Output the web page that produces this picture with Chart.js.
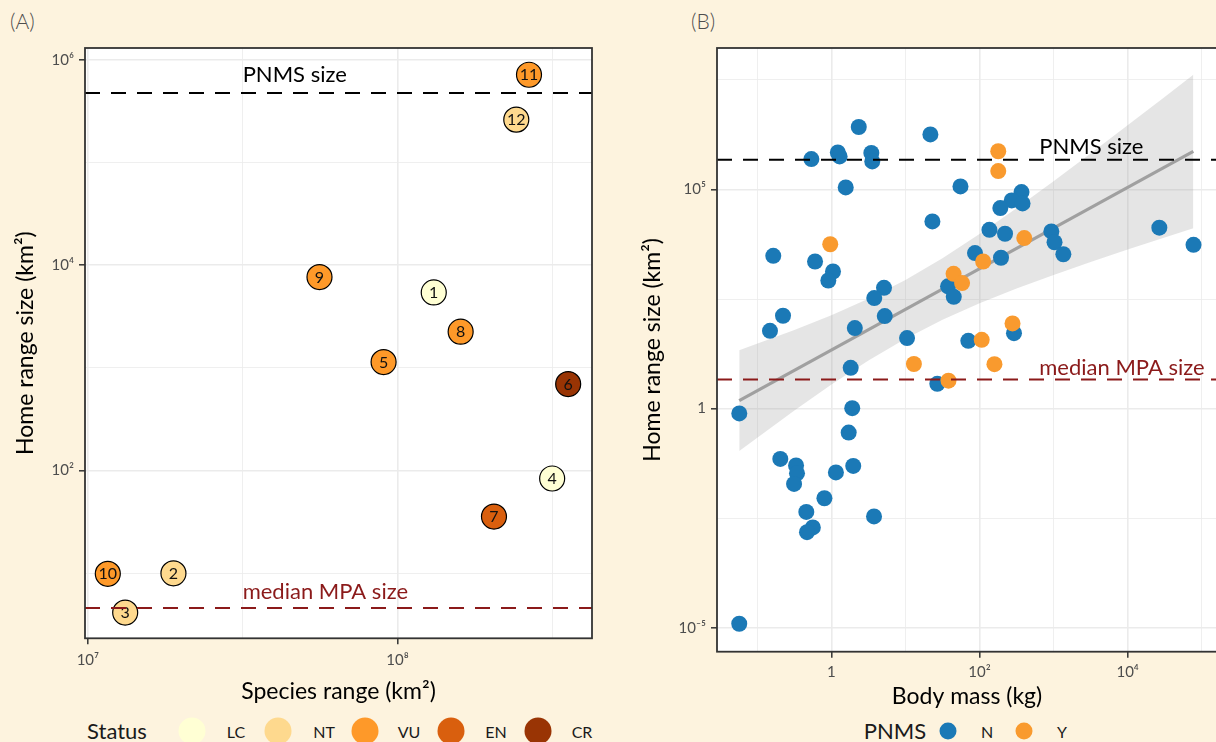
<!DOCTYPE html>
<html><head><meta charset="utf-8">
<script src="https://cdn.jsdelivr.net/npm/chart.js@4.4.1/dist/chart.umd.min.js"></script>
<style>
html,body{margin:0;padding:0;background:#FDF3DE;width:1216px;height:742px;overflow:hidden;font-family:Lato,"Noto Sans",sans-serif;}
#wrapA{position:absolute;left:0;top:0;width:600px;height:710px;}
#wrapB{position:absolute;left:620px;top:0;width:600px;height:710px;}
.tag{position:absolute;top:8px;font-size:21px;color:#4D4D4D;font-weight:300;}
.lg{position:absolute;transform:translate(-50%,-50%);white-space:nowrap;color:#1a1a1a;line-height:1;}
.lgt{font-size:22px;}
.lgl{font-size:16px;}
.dot{position:absolute;border-radius:50%;transform:translate(-50%,-50%);}
</style></head>
<body>
<div class="tag" style="left:10px">(A)</div>
<div class="tag" style="left:691px">(B)</div>
<div id="wrapA"><canvas id="cA" width="600" height="710"></canvas></div>
<div id="wrapB"><canvas id="cB" width="600" height="710"></canvas></div>
<div id="legA"></div>
<div id="legB"></div>
<script>
// ---------- Panel A data ----------
const speciesLabels = ['1','2','3','4','5','6','7','8','9','10','11','12'];
const speciesRange = [1.31e8, 1.89e7, 1.32e7, 3.16e8, 9.02e7, 3.56e8, 2.05e8, 1.60e8, 5.60e7, 1.16e7, 2.66e8, 2.42e8];
const homeRangeA = [5420, 10.0, 4.15, 83.8, 1138, 695, 35.7, 2249, 7656, 9.89, 7.14e5, 2.61e5];
const statusA = ['LC','NT','NT','LC','VU','CR','EN','VU','VU','VU','VU','NT'];
const statusLevels = ['LC','NT','VU','EN','CR'];
const statusColors = ['#FFFFD4','#FED98E','#FE9929','#D95F0E','#993404'];

// ---------- Panel B data ----------
const bodyMassN = [2.34,21.7,0.536,1.22,1.29,3.46,3.56,1.56,55.3,23.1,0.164,0.601,1.05,0.908,5.13,37.6,44.9,369,272,381,191,136,221,933,1030,1355,26800,77600,86.9,195,3.79,5.25,0.222,0.148,2.07,10.5,1.82,26.9,70.6,292,0.0570,1.91,1.71,0.204,0.333,0.343,0.313,1.15,1.97,0.804,0.458,0.561,0.468,3.76,0.0569];
const homeRangeN = [2.66e6,1.80e6,4.94e5,7.00e5,5.66e5,6.78e5,4.36e5,1.11e5,1.17e5,1.86e4,3060,2270,1340,836,570,617,355,8.73e4,5.61e4,4.79e4,3.76e4,1.20e4,9750,1.10e4,6240,3320,1.34e4,5460,3530,2760,332,129,131,59.4,68.5,40.5,8.49,3.66,35.2,52.6,0.776,1.02,0.283,0.0711,0.0505,0.0332,0.0191,0.0349,0.0492,0.00899,0.00439,0.00194,0.00151,0.00346,1.23e-5];
const bodyMassY = [0.964,44.6,58.1,179,179,402,112,13.0,38.1,107,279,159];
const homeRangeY = [5610,1190,729,7.45e5,2.63e5,7760,2270,10.4,4.34,37.0,87.7,10.3];
const fitX = [0.0569, 7.71e4];
const fitY = [1.52, 7.36e5];
const ribbonX = [0.0569,0.316,1,3.16,10,31.6,100,316,1000,3162,1e4,3.16e4,7.71e4];
const ribbonUpper = [21.5,61.8,134,319,863,2700,9570,3.73e4,1.54e5,6.61e5,2.90e6,1.29e7,4.14e7];
const ribbonLower = [0.108,0.906,3.52,12.5,39.1,106,252,547,1120,2210,4250,8050,1.31e4];
const pnmsLevels = ['N','Y'];
const pnmsColors = ['#1B79B6','#F99A2E'];

// ---------- reference lines ----------
const PNMS_SIZE = 4.75e5;
const MEDIAN_MPA = 4.6;

// ---------- ticks ----------
const aXMajor = [1e7, 1e8], aXLabels = ['10⁷','10⁸'], aXMinor = [3.1623e7, 3.1623e8];
const aYMajor = [1e2, 1e4, 1e6], aYLabels = ['10²','10⁴','10⁶'], aYMinor = [1e1, 1e3, 1e5];
const bXMajor = [1, 1e2, 1e4], bXLabels = ['1','10²','10⁴'], bXMinor = [0.1, 10, 1e3, 1e5];
const bYMajor = [1e-5, 1, 1e5], bYLabels = ['10⁻⁵','1','10⁵'], bYMinor = [3.1623e-3, 316.23, 3.1623e7];

Chart.defaults.font.family = "Lato, 'Noto Sans', sans-serif";

function sameLog(a,b){ return Math.abs(Math.log10(a)-Math.log10(b)) < 1e-6; }

function logAxis(major, labels, minor, min, max, extra){
  const ax = {
    type:'logarithmic', min:min, max:max, bounds:'data',
    afterBuildTicks(scale){
      const t = major.map(v=>({value:v, major:true})).concat(minor.map(v=>({value:v, major:false})));
      t.sort((p,q)=>p.value-q.value);
      scale.ticks = t;
    },
    ticks:{
      autoSkip:false, maxRotation:0, minRotation:0,
      color:'#4D4D4D', font:{size:15},
      callback(value){
        for (let i=0;i<major.length;i++) if (sameLog(value, major[i])) return labels[i];
        return '';
      }
    },
    grid:{
      color:'#EBEBEB',
      lineWidth: ctx => (ctx.tick && ctx.tick.major) ? 1.6 : 0.8,
      drawTicks:true, tickLength:6,
      tickColor: ctx => (ctx.tick && ctx.tick.major) ? '#333333' : 'rgba(0,0,0,0)',
      tickWidth:1.5
    },
    border:{display:false},
    title:{display:true, color:'#000', font:{size:23}}
  };
  return Object.assign(ax, extra||{});
}
function fixX(h){ return function(s){ s.height = h; s.paddingLeft = 0; s.paddingRight = 0; s.paddingTop = 0; s.paddingBottom = 0; }; }
function fixY(w){ return function(s){ s.width = w; s.paddingLeft = 0; s.paddingRight = 0; s.paddingTop = 0; s.paddingBottom = 0; }; }

const panelBg = { id:'panelBg', beforeDraw(chart){ const {ctx, chartArea:a} = chart; ctx.save(); ctx.fillStyle='#FFFFFF'; ctx.fillRect(a.left,a.top,a.right-a.left,a.bottom-a.top); ctx.restore(); } };
const panelBorder = { id:'panelBorder', afterDraw(chart){ const {ctx, chartArea:a} = chart; ctx.save(); ctx.strokeStyle='#333333'; ctx.lineWidth=1.8; ctx.strokeRect(a.left,a.top,a.right-a.left,a.bottom-a.top); ctx.restore(); } };
const pointLabels = { id:'pointLabels', afterDatasetsDraw(chart, args, opts){
  if (!opts || !opts.labels) return;
  const {ctx} = chart; const meta = chart.getDatasetMeta(0);
  ctx.save(); ctx.fillStyle='#111'; ctx.font="16px Lato, 'Noto Sans', sans-serif"; ctx.textAlign='center'; ctx.textBaseline='middle';
  meta.data.forEach((el,i)=>{ ctx.fillText(opts.labels[i], el.x, el.y+0.5); });
  ctx.restore();
}};
const refLines = { id:'refLines', afterDatasetsDraw(chart, args, opts){
  if (!opts || !opts.lines) return;
  const {ctx, chartArea:a, scales} = chart;
  ctx.save();
  ctx.beginPath(); ctx.rect(a.left,a.top,a.right-a.left,a.bottom-a.top); ctx.clip();
  opts.lines.forEach(l=>{
    const y = scales.y.getPixelForValue(l.value);
    ctx.strokeStyle=l.color; ctx.lineWidth=2; ctx.setLineDash([15,11]);
    ctx.beginPath(); ctx.moveTo(a.left,y); ctx.lineTo(a.right,y); ctx.stroke();
    ctx.setLineDash([]);
    ctx.fillStyle=l.color; ctx.font="22px Lato, 'Noto Sans', sans-serif"; ctx.textAlign='left'; ctx.textBaseline='middle';
    ctx.fillText(l.label, scales.x.getPixelForValue(l.labelX), scales.y.getPixelForValue(l.labelY));
  });
  ctx.restore();
}};

// ---------- Chart A ----------
new Chart(document.getElementById('cA'), {
  type:'scatter',
  data:{ datasets:[{
    label:'Status',
    data: speciesRange.map((x,i)=>({x:x, y:homeRangeA[i]})),
    pointBackgroundColor: statusA.map(s=>statusColors[statusLevels.indexOf(s)]),
    pointBorderColor:'#000', pointBorderWidth:1.2, pointRadius:12.5, pointHoverRadius:12.5
  }]},
  options:{
    responsive:false, animation:false, events:[],
    layout:{autoPadding:false, padding:{left:0, top:48, right:8, bottom:0}},
    plugins:{ legend:{display:false}, tooltip:{enabled:false},
      pointLabels:{labels:speciesLabels},
      refLines:{lines:[
        {value:PNMS_SIZE, color:'#000000', label:'PNMS size', labelX:3.1623e7, labelY:7.15e5},
        {value:MEDIAN_MPA, color:'#8B1A1A', label:'median MPA size', labelX:3.1623e7, labelY:6.65}
      ]}
    },
    scales:{
      x: logAxis(aXMajor, aXLabels, aXMinor, 9.79e6, 4.25e8, {
        position:'bottom',
        afterFit: fixX(710-638.3),
        title:{display:true, text:'Species range (km²)', color:'#000', font:{size:23}, padding:{top:0,bottom:5}}
      }),
      y: logAxis(aYMajor, aYLabels, aYMinor, 2.33, 1.30e6, {
        position:'left',
        afterFit: fixY(85),
        title:{display:true, text:'Home range size (km²)', color:'#000', font:{size:23}, padding:{top:12,bottom:0}}
      })
    }
  },
  plugins:[panelBg, pointLabels, refLines, panelBorder]
});
Chart.getChart('cA').options.scales.x.ticks.padding = 7;
Chart.getChart('cA').options.scales.y.ticks.padding = 5;
Chart.getChart('cA').update('none');

// ---------- Chart B ----------
new Chart(document.getElementById('cB'), {
  type:'scatter',
  data:{ datasets:[
    { label:'Y', data: bodyMassY.map((x,i)=>({x:x,y:homeRangeY[i]})), pointBackgroundColor:pnmsColors[1], pointBorderColor:pnmsColors[1], pointBorderWidth:0, pointRadius:8, pointHoverRadius:8, order:0 },
    { label:'N', data: bodyMassN.map((x,i)=>({x:x,y:homeRangeN[i]})), pointBackgroundColor:pnmsColors[0], pointBorderColor:pnmsColors[0], pointBorderWidth:0, pointRadius:8, pointHoverRadius:8, order:1 },
    { type:'line', label:'fit', data: fitX.map((x,i)=>({x:x,y:fitY[i]})), borderColor:'#A0A0A0', borderWidth:3.2, pointRadius:0, fill:false, tension:0, order:2 },
    { type:'line', label:'upper', data: ribbonX.map((x,i)=>({x:x,y:ribbonUpper[i]})), borderColor:'rgba(0,0,0,0)', borderWidth:1, backgroundColor:'rgba(153,153,153,0.25)', pointRadius:0, fill:'+1', tension:0, order:3 },
    { type:'line', label:'lower', data: ribbonX.map((x,i)=>({x:x,y:ribbonLower[i]})), borderColor:'rgba(0,0,0,0)', borderWidth:1, pointRadius:0, fill:false, tension:0, order:4 }
  ]},
  options:{
    responsive:false, animation:false, events:[],
    layout:{autoPadding:false, padding:{left:0, top:48, right:3, bottom:0}},
    plugins:{ legend:{display:false}, tooltip:{enabled:false},
      refLines:{lines:[
        {value:PNMS_SIZE, color:'#000000', label:'PNMS size', labelX:640, labelY:9.29e5},
        {value:MEDIAN_MPA, color:'#8B1A1A', label:'median MPA size', labelX:640, labelY:8.36}
      ]}
    },
    scales:{
      x: logAxis(bXMajor, bXLabels, bXMinor, 0.0285, 1.61e5, {
        position:'bottom',
        afterFit: fixX(710-651.7),
        title:{display:true, text:'Body mass (kg)', color:'#000', font:{size:23}, padding:{top:0,bottom:0}}
      }),
      y: logAxis(bYMajor, bYLabels, bYMinor, 2.83e-6, 1.69e8, {
        position:'left',
        afterFit: fixY(97),
        title:{display:true, text:'Home range size (km²)', color:'#000', font:{size:23}, padding:{top:19,bottom:0}}
      })
    }
  },
  plugins:[panelBg, refLines, panelBorder]
});
Chart.getChart('cB').options.scales.x.ticks.padding = 5;
Chart.getChart('cB').options.scales.y.ticks.padding = 5;
Chart.getChart('cB').update('none');

// ---------- legends (HTML) ----------
function addEl(parent, cls, style, text){ const d=document.createElement('div'); d.className=cls; Object.assign(d.style, style); if(text!==undefined) d.textContent=text; parent.appendChild(d); }
const legA = document.getElementById('legA');
addEl(legA,'lg lgt',{left:'117px',top:'731px'},'Status');
const legAX = [191.7,278,365,451,538], legALabX = [236,324,409,496,582];
statusLevels.forEach((s,i)=>{
  addEl(legA,'dot',{left:legAX[i]+'px',top:'731px',width:'27px',height:'27px',background:statusColors[i]});
  addEl(legA,'lg lgl',{left:legALabX[i]+'px',top:'732px'},s);
});
const legB = document.getElementById('legB');
addEl(legB,'lg lgt',{left:'895px',top:'731px'},'PNMS');
const legBX = [948,1024], legBLabX = [987,1062];
pnmsLevels.forEach((s,i)=>{
  addEl(legB,'dot',{left:legBX[i]+'px',top:'731px',width:'17px',height:'17px',background:pnmsColors[i]});
  addEl(legB,'lg lgl',{left:legBLabX[i]+'px',top:'732px'},s);
});
</script>
</body></html>
